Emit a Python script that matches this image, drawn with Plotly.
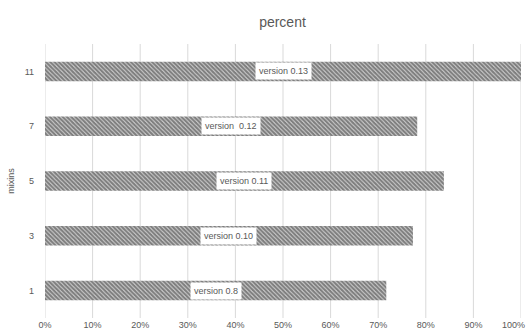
import plotly.graph_objects as go

# Share of each mixins count, with the release where it was measured
mixins = ["1", "3", "5", "7", "11"]
percent = [0.717, 0.773, 0.838, 0.782, 1.0]
versions = ["version 0.8", "version 0.10", "version 0.11", "version  0.12", "version 0.13"]

x_ticks = [i / 10 for i in range(11)]
x_tick_text = [f"{i * 10}%" for i in range(11)]

GRAY = "#595959"
FONT = "Liberation Sans"

fig = go.Figure(
    go.Bar(
        x=percent,
        y=mixins,
        orientation="h",
        marker=dict(
            color="white",
            line=dict(width=0),
            pattern=dict(shape="\\", fgcolor="#000000", bgcolor="white", size=3, solidity=0.8),
        ),
        hoverinfo="skip",
    )
)

# Centered value labels on white boxes (category axis positions are indices)
for i, (v, txt) in enumerate(zip(percent, versions)):
    fig.add_annotation(
        x=v / 2, y=i, text=txt, showarrow=False,
        font=dict(family=FONT, size=9, color=GRAY),
        bgcolor="white", borderpad=3,
    )

# The last tick label sits against the right page edge
fig.add_annotation(
    x=1, y=0, xref="paper", yref="paper", xshift=6, yshift=-7, text=x_tick_text[-1],
    showarrow=False, font=dict(family=FONT, size=9, color=GRAY),
    xanchor="right", yanchor="middle",
)

fig.update_layout(
    width=528, height=336,
    margin=dict(l=44.5, r=7, t=43.5, b=17.5),
    paper_bgcolor="white", plot_bgcolor="white",
    bargap=0.645,
    showlegend=False,
    title=dict(text="percent", x=0.535, xanchor="center", y=0.935, yanchor="middle",
               font=dict(family=FONT, size=14, color=GRAY)),
    xaxis=dict(
        range=[0, 1], tickvals=x_ticks[:-1], ticktext=x_tick_text[:-1],
        showgrid=False, zeroline=False, showline=False, ticks="",
        tickfont=dict(family=FONT, size=9, color=GRAY),
    ),
    yaxis=dict(
        type="category",
        categoryorder="array", categoryarray=mixins,
        showgrid=False, zeroline=False, showline=False, ticks="",
        ticklabelstandoff=10,
        tickfont=dict(family=FONT, size=9, color=GRAY),
        title=dict(text="mixins", standoff=8, font=dict(family=FONT, size=9, color=GRAY)),
    ),
)

# Vertical gridlines at every tick, including both plot edges
for t in x_ticks:
    fig.add_vline(x=t, line=dict(color="#d9d9d9", width=1), layer="below")

fig.write_html("out.html")
